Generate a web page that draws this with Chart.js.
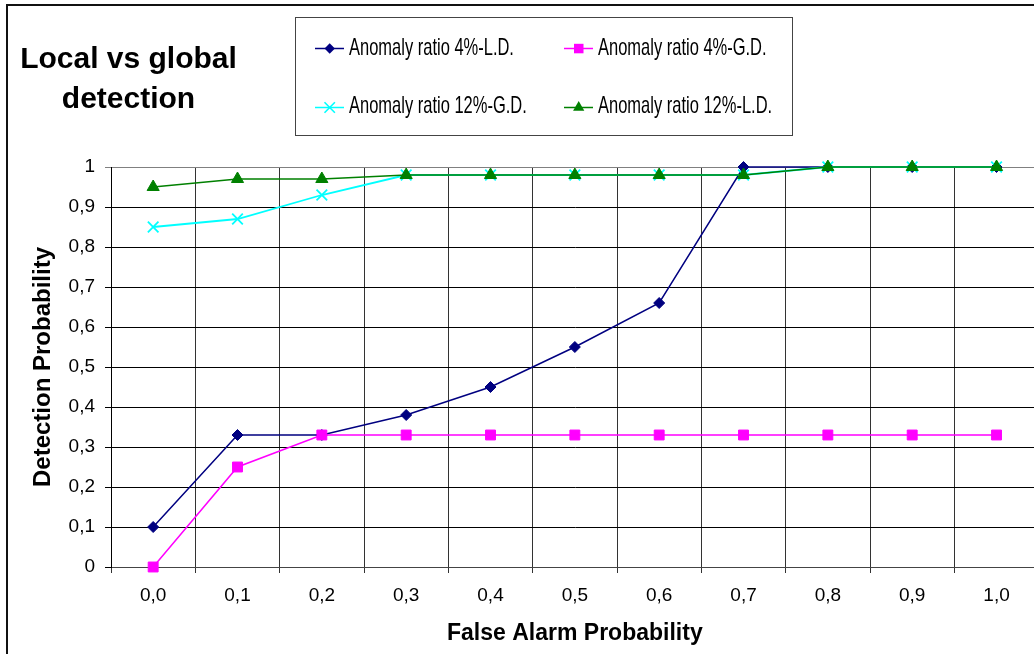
<!DOCTYPE html>
<html>
<head>
<meta charset="utf-8">
<script src="https://cdn.jsdelivr.net/npm/chart.js@4.4.1/dist/chart.umd.min.js"></script>
<style>
  html, body { margin: 0; padding: 0; background: #fff; overflow: hidden; }
  #wrap { position: relative; width: 1048px; height: 654px; font-family: Arial, "Liberation Sans", sans-serif; }
  #c { position: absolute; left: 0; top: 0; }
  #frame { position: absolute; left: 6px; top: 4px; width: 1100px; height: 700px; border-left: 2px solid #111; border-top: 2px solid #111; }
  #title { position: absolute; left: 0; top: 38px; width: 257px; text-align: center; font-weight: bold; font-size: 30px; line-height: 40px; color: #000; }
  #legend { position: absolute; left: 295px; top: 17px; width: 496px; height: 117px; border: 1px solid #444; background: #fff; }
  .item { position: absolute; height: 25px; }
  .item svg { position: absolute; left: 0; top: 0; }
  .item span { position: absolute; left: 34px; top: 0; white-space: nowrap; font-size: 24px; line-height: 24px; transform: scaleX(0.687); transform-origin: left center; color: #000; }
</style>
</head>
<body>
<div id="wrap">
  <canvas id="c" width="1048" height="654"></canvas>
  <div id="frame"></div>
  <div id="title">Local vs global<br>detection</div>
  <div id="legend"></div>
</div>
<script>
// False alarm probability (categories)
const categories = ['0,0', '0,1', '0,2', '0,3', '0,4', '0,5', '0,6', '0,7', '0,8', '0,9', '1,0'];

// detection probability per series
const ld4  = [0.10, 0.33, 0.33, 0.38, 0.45, 0.55, 0.66, 1.00, 1.00, 1.00, 1.00];
const gd4  = [0.00, 0.25, 0.33, 0.33, 0.33, 0.33, 0.33, 0.33, 0.33, 0.33, 0.33];
const gd12 = [0.85, 0.87, 0.93, 0.98, 0.98, 0.98, 0.98, 0.98, 1.00, 1.00, 1.00];
const ld12 = [0.95, 0.97, 0.97, 0.98, 0.98, 0.98, 0.98, 0.98, 1.00, 1.00, 1.00];

const seriesNames = ['Anomaly ratio 4%-L.D.', 'Anomaly ratio 4%-G.D.', 'Anomaly ratio 12%-G.D.', 'Anomaly ratio 12%-L.D.'];
const yTicks = [0, 0.1, 0.2, 0.3, 0.4, 0.5, 0.6, 0.7, 0.8, 0.9, 1];

const NAVY = '#000080', MAGENTA = '#ff00ff', CYAN = '#00ffff', GREEN = '#008000';

Chart.defaults.font.family = 'Arial, "Liberation Sans", sans-serif';
Chart.defaults.color = '#000';

function fmt(v) {
  if (v === 0) return '0';
  if (v === 1) return '1';
  return v.toFixed(1).replace('.', ',');
}

new Chart(document.getElementById('c'), {
  type: 'line',
  data: {
    labels: categories,
    datasets: [
      { label: seriesNames[0], data: ld4, borderColor: NAVY, backgroundColor: NAVY, pointStyle: 'rectRot', pointRadius: 5.5, borderWidth: 1.5, pointBorderWidth: 1, order: 4, clip: false },
      { label: seriesNames[1], data: gd4, borderColor: MAGENTA, backgroundColor: MAGENTA, pointStyle: 'rect', pointRadius: 7, borderWidth: 1.5, pointBorderWidth: 1, order: 3, clip: false },
      { label: seriesNames[2], data: gd12, borderColor: CYAN, backgroundColor: CYAN, pointStyle: 'crossRot', pointRadius: 7.5, borderWidth: 1.8, pointBorderWidth: 1.8, order: 2, clip: false },
      { label: seriesNames[3], data: ld12, borderColor: GREEN, backgroundColor: GREEN, pointStyle: 'triangle', pointRadius: 7, borderWidth: 1.5, pointBorderWidth: 1, order: 1, clip: false },
    ]
  },
  options: {
    responsive: false,
    devicePixelRatio: 1,
    animation: false,
    layout: { padding: { left: 29, top: 167, right: 6, bottom: 7 } },
    plugins: { legend: { display: false }, tooltip: { enabled: false } },
    elements: { line: { tension: 0 } },
    scales: {
      x: {
        type: 'category',
        offset: true,
        afterFit: s => { s.height = 80; },
        grid: { color: '#333', lineWidth: 1, tickLength: 6, offset: true },
        border: { color: '#444', width: 1 },
        ticks: { font: { size: 19 }, padding: 11, maxRotation: 0, autoSkip: false },
        title: { display: true, text: 'False Alarm Probability', font: { size: 23, weight: 'bold' }, padding: { top: 0, bottom: 0 } }
      },
      y: {
        min: 0, max: 1,
        afterFit: s => { s.width = 82; },
        afterBuildTicks: s => { s.ticks = yTicks.map(v => ({ value: v })); },
        grid: { color: c => (c.tick && c.tick.value === 1) ? '#808080' : '#000', lineWidth: 1, tickLength: 6 },
        border: { color: '#000', width: 1 },
        ticks: { font: { size: 19 }, padding: 10, callback: v => fmt(v) },
        title: { display: true, text: 'Detection Probability', font: { size: 24, weight: 'bold' }, padding: { top: 0, bottom: 0 } }
      }
    }
  }
});

// legend drawn as html, markers in svg
const legendPos = [[19, 17.5], [268, 17.5], [19, 76.5], [268, 76.5]];
const legendColors = [NAVY, MAGENTA, CYAN, GREEN];
function marker(i, c) {
  if (i === 0) return `<polygon points="9.5,12.5 14.7,7.3 19.9,12.5 14.7,17.7" fill="${c}"/>`;
  if (i === 1) return `<rect x="10" y="7.8" width="9.5" height="9.5" fill="${c}"/>`;
  if (i === 2) return `<path d="M9.5,7.3 L19.9,17.7 M19.9,7.3 L9.5,17.7" stroke="${c}" stroke-width="1.6"/>`;
  return `<polygon points="14.7,6 20.3,15.8 9.1,15.8" fill="${c}"/>`;
}
document.getElementById('legend').innerHTML = seriesNames.map((n, i) => {
  const [x, y] = legendPos[i];
  const c = legendColors[i];
  return `<div class="item" style="left:${x}px;top:${y}px">
    <svg width="30" height="25"><line x1="0" y1="12.5" x2="29" y2="12.5" stroke="${c}" stroke-width="1.5"/>${marker(i, c)}</svg>
    <span style="top:${i < 2 ? -1 : -2}px">${n}</span>
  </div>`;
}).join('');
</script>
</body>
</html>
